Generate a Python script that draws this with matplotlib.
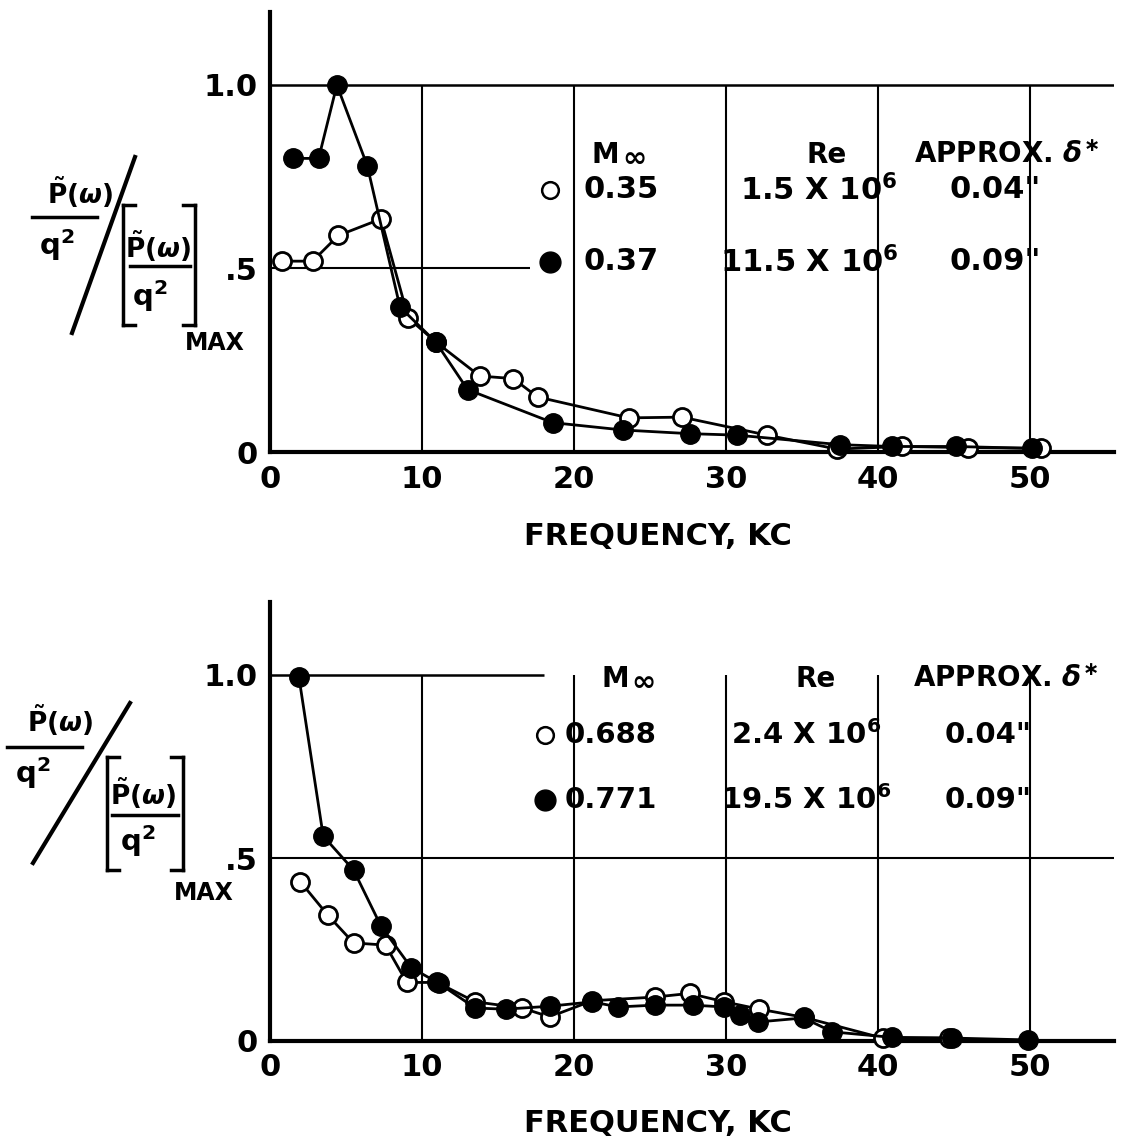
import matplotlib
matplotlib.use("Agg")
import matplotlib.pyplot as plt
from matplotlib.lines import Line2D

plt.rcParams['font.family'] = ['DejaVu Sans']
plt.rcParams['mathtext.fontset'] = 'dejavusans'
plt.rcParams['font.weight'] = 'bold'

# ---- data (frequency in kc, normalised spectrum) ----
# upper panel
top_open_freq = [0.8, 2.8, 4.5, 7.3, 9.1, 10.9, 13.8, 16.0, 17.6, 23.6, 27.1, 32.7, 37.3, 41.6, 45.9, 50.7]
top_open_val = [0.52, 0.52, 0.59, 0.635, 0.365, 0.30, 0.207, 0.20, 0.15, 0.093, 0.095, 0.046, 0.008, 0.015, 0.012, 0.01]
top_fill_freq = [1.5, 3.2, 4.4, 6.4, 8.55, 10.9, 13.0, 18.6, 23.2, 27.6, 30.7, 37.5, 40.9, 45.1, 50.1]
top_fill_val = [0.80, 0.80, 1.0, 0.78, 0.395, 0.30, 0.17, 0.08, 0.06, 0.05, 0.046, 0.02, 0.015, 0.015, 0.01]

# lower panel
bot_open_freq = [2.0, 3.8, 5.5, 7.6, 9.0, 11.0, 13.5, 16.6, 18.4, 21.2, 25.3, 27.6, 29.9, 32.2, 35.1, 40.3, 44.7]
bot_open_val = [0.435, 0.344, 0.268, 0.262, 0.16, 0.16, 0.107, 0.09, 0.066, 0.11, 0.12, 0.13, 0.107, 0.087, 0.065, 0.008, 0.008]
bot_fill_freq = [1.9, 3.5, 5.5, 7.3, 9.3, 11.1, 13.5, 15.5, 18.4, 21.2, 22.9, 25.3, 27.8, 29.9, 30.9, 32.1, 35.1, 37.0, 40.9, 44.9, 49.9]
bot_fill_val = [0.995, 0.56, 0.467, 0.314, 0.20, 0.158, 0.09, 0.087, 0.095, 0.107, 0.093, 0.098, 0.098, 0.093, 0.07, 0.052, 0.063, 0.025, 0.01, 0.008, 0.003]

x_ticks = [0, 10, 20, 30, 40, 50]
y_ticks = [0, 0.5, 1.0]
y_tick_labels = ['0', '.5', '1.0']

top_legend = [('0.35', r'1.5 X 10$^6$', '0.04"'), ('0.37', r'11.5 X 10$^6$', '0.09"')]
bot_legend = [('0.688', r'2.4 X 10$^6$', '0.04"'), ('0.771', r'19.5 X 10$^6$', '0.09"')]

W, H = 1136, 1146
fig = plt.figure(figsize=(W / 100, H / 100), dpi=100)


def fx(px):
    return px / W


def fy(py):
    return 1 - py / H


def setup_axes(ax, half_line_to, one_line_to):
    ax.set_xlim(0, 55.5)
    ax.set_ylim(0, 1.2)
    for s in ['top', 'right']:
        ax.spines[s].set_visible(False)
    for s in ['left', 'bottom']:
        ax.spines[s].set_linewidth(3)
    ax.set_xticks(x_ticks)
    ax.set_xticklabels([str(t) for t in x_ticks])
    ax.set_yticks(y_ticks)
    ax.set_yticklabels(y_tick_labels)
    ax.tick_params(length=0, labelsize=22, pad=9)
    # grid drawn as on the original sheet
    ax.vlines(x_ticks[1:], 0, 1.0, color='black', lw=1.5, zorder=1)
    ax.hlines(1.0, 0, one_line_to, color='black', lw=1.8, zorder=1)
    ax.hlines(0.5, 0, half_line_to, color='black', lw=1.5, zorder=1)
    ax.set_xlabel('FREQUENCY, KC', fontsize=22, fontweight='bold')


def draw_series(ax, fx_, fv, ox, ov):
    ax.plot(ox, ov, '-o', color='black', lw=2, ms=13, mfc='white', mec='black',
            mew=2, clip_on=False, zorder=3)
    ax.plot(fx_, fv, '-o', color='black', lw=2, ms=14, mfc='black', mec='black',
            clip_on=False, zorder=4)


def draw_legend(ax, rows, head_y, row_y, m_x, re_x, d_x, mk_x, txt_x, re_left, d_left, size):
    ax.text(m_x, head_y, 'M', fontsize=20, ha='right', va='center')
    ax.text(m_x + 0.15, head_y - 0.012, '\u221e', fontsize=21, ha='left', va='center')
    ax.text(re_x, head_y, 'Re', fontsize=20, ha='center', va='center')
    ax.text(d_x, head_y, r'APPROX. $\delta^{\ast}$', fontsize=20, ha='center', va='center')
    styles = [dict(mfc='white', mew=1.8, ms=12), dict(mfc='black', mew=1, ms=15)]
    for (mach, re, delta), y, st, rl in zip(rows, row_y, styles, re_left):
        ax.plot([mk_x], [y], 'o', mec='black', **st)
        ax.text(txt_x, y, mach, fontsize=size, va='center')
        ax.text(rl, y, re, fontsize=size, va='center')
        ax.text(d_left, y, delta, fontsize=size, va='center')


ax1 = fig.add_axes([fx(270), fy(452), 843.6 / W, 440.4 / H])
setup_axes(ax1, half_line_to=17.1, one_line_to=55.5)
draw_series(ax1, top_fill_freq, top_fill_val, top_open_freq, top_open_val)
draw_legend(ax1, top_legend, 0.81, [0.714, 0.518], 23.0, 36.6, 48.5, 18.4,
            20.6, [30.9, 29.6], 44.7, 22)
ax1.xaxis.set_label_coords(0.46, -0.16)

ax2 = fig.add_axes([fx(270), fy(1041), 843.6 / W, 439.2 / H])
setup_axes(ax2, half_line_to=55.5, one_line_to=18.0)
draw_series(ax2, bot_fill_freq, bot_fill_val, bot_open_freq, bot_open_val)
draw_legend(ax2, bot_legend, 0.99, [0.836, 0.658], 23.6, 35.9, 48.4, 18.1,
            19.4, [30.3, 29.7], 44.4, 21)
ax2.xaxis.set_label_coords(0.46, -0.155)


# ---- y-axis label: (P(w)/q^2) / [P(w)/q^2]_MAX, hand-lettered style ----
def line(x0, y0, x1, y1, lw=2.5):
    fig.add_artist(Line2D([fx(x0), fx(x1)], [fy(y0), fy(y1)], color='black', lw=lw))


def ylabel(o_num, o_line, o_den, slash, br, i_num, i_line, i_den, mx):
    p = r'$\tilde{\mathrm{P}}(\omega)$'
    q = r'q$^{2}$'
    fig.text(fx(o_num[0]), fy(o_num[1]), p, fontsize=19, ha='center', va='center')
    line(o_line[0], o_line[2], o_line[1], o_line[2])
    fig.text(fx(o_den[0]), fy(o_den[1]), q, fontsize=21, ha='center', va='center')
    line(slash[0], slash[1], slash[2], slash[3], lw=3)
    bl, brr, bt, bb = br
    line(bl, bt, bl, bb)
    line(brr, bt, brr, bb)
    for yy in (bt, bb):
        line(bl, yy, bl + 12, yy)
        line(brr - 12, yy, brr, yy)
    fig.text(fx(i_num[0]), fy(i_num[1]), p, fontsize=19, ha='center', va='center')
    line(i_line[0], i_line[2], i_line[1], i_line[2])
    fig.text(fx(i_den[0]), fy(i_den[1]), q, fontsize=21, ha='center', va='center')
    fig.text(fx(mx[0]), fy(mx[1]), 'MAX', fontsize=17, ha='center', va='center')


ylabel((80, 192), (32, 97, 217), (57, 245), (135, 157, 72, 333),
       (123, 195, 205, 325), (158, 246), (130, 190, 266), (150, 296), (215, 343))
ylabel((60, 720), (7, 82, 747), (33, 773), (130, 703, 33, 863),
       (107, 183, 757, 870), (143, 793), (112, 178, 815), (138, 841), (204, 893))

fig.savefig('out.png', dpi=100)
